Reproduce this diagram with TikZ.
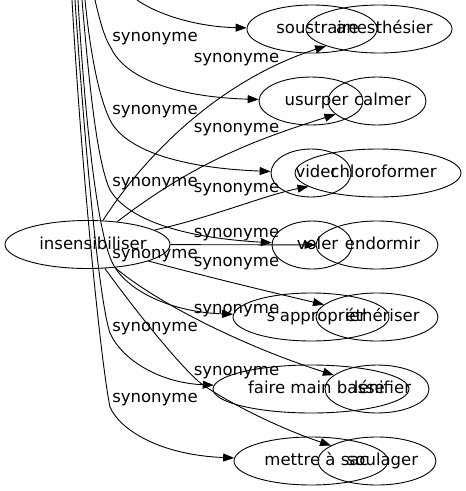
\documentclass[tikz,border=0pt]{standalone}
\usepackage{fontspec}
\newfontfamily\dv{DejaVu Sans}
\usetikzlibrary{shapes.geometric,arrows.meta}
\newcommand{\ntxt}[1]{\makebox[0pt]{\kern11pt #1}}
\begin{document}
\begin{tikzpicture}[x=1pt,y=-1pt,
  nd/.style={ellipse, draw, line width=0.9pt, inner sep=0pt, minimum height=48pt,
    text height=9pt, text depth=0pt, font=\dv\fontsize{16.5}{20}\selectfont},
  lbl/.style={inner sep=0pt, text height=9pt, text depth=0pt,
    font=\dv\fontsize{16.5}{20}\selectfont},
  edge/.style={line width=0.9pt, -{Triangle[length=11pt,width=8pt]}}]
\useasboundingbox (0,0) rectangle (466,491);
\fill[white] (0,0) rectangle (466,491);
\clip (0,0) rectangle (466,491);

% nodes
\node[nd, minimum width=165pt] (ins) at (87.5,244.5) {\ntxt{insensibiliser}};
\node[nd, minimum width=130pt] (sous) at (312,29) {\ntxt{soustraire}};
\node[nd, minimum width=146pt] (anes) at (379,29) {\ntxt{anesthésier}};
\node[nd, minimum width=104pt] (usur) at (311,101) {\ntxt{usurper}};
\node[nd, minimum width=98pt] (calm) at (377,101) {\ntxt{calmer}};
\node[nd, minimum width=80pt] (vide) at (311,173) {\ntxt{vider}};
\node[nd, minimum width=166pt] (chlo) at (378,173) {\ntxt{chloroformer}};
\node[nd, minimum width=80pt] (vole) at (312,245) {\ntxt{voler}};
\node[nd, minimum width=122pt] (endo) at (377,245) {\ntxt{endormir}};
\node[nd, minimum width=156pt] (sapp) at (311,317) {\ntxt{s'approprier}};
\node[nd, minimum width=122pt] (ethe) at (377,317) {\ntxt{éthériser}};
\node[nd, minimum width=196pt] (fair) at (311,389) {\ntxt{faire main basse}};
\node[nd, minimum width=104pt] (leni) at (377,389) {\ntxt{lénifier}};
\node[nd, minimum width=154pt] (mett) at (311,461) {\ntxt{mettre à sac}};
\node[nd, minimum width=118pt] (soul) at (377,461) {\ntxt{soulager}};

% free ends of edges coming from above the picture
\coordinate (t1) at (137,0);
\coordinate (t2) at (95,0);
\coordinate (t3) at (85,0);
\coordinate (t4) at (82,0);
\coordinate (t5) at (78,0);
\coordinate (t6) at (75,0);
\coordinate (t7) at (72,0);

\draw[edge] (t1) .. controls (160,16) and (200,27) .. (sous);
\draw[edge] (t2) .. controls (102,30) and (106,40) .. (111,48) .. controls (125,78) and (175,97) .. (usur);
\draw[edge] (t3) .. controls (90,50) and (98,95) .. (110,120) .. controls (125,150) and (180,168) .. (vide);
\draw[edge] (t4) .. controls (88,70) and (96,160) .. (110,190) .. controls (125,215) and (170,237) .. (vole);
\draw[edge] (t5) .. controls (85,120) and (97,230) .. (112,262) .. controls (125,290) and (170,312) .. (sapp);
\draw[edge] (t6) .. controls (85,150) and (99,300) .. (110,333) .. controls (122,360) and (160,383) .. (fair);
\draw[edge] (t7) .. controls (82,180) and (102,370) .. (110,407) .. controls (120,430) and (160,455) .. (mett);

% edges from insensibiliser
\draw[edge] (ins) .. controls (145,155) and (220,80) .. (anes);
\draw[edge] (ins) .. controls (195,162) and (255,140) .. (calm);
\draw[edge] (ins) .. controls (210,218) and (265,195) .. (chlo);
\draw[edge] (ins) -- (endo);
\draw[edge] (ins) .. controls (200,275) and (270,292) .. (ethe);
\draw[edge] (ins) .. controls (156,302) and (240,345) .. (leni);
\draw[edge] (ins) .. controls (135,310) and (175,360) .. (198,381) .. controls (215,395) and (270,425) .. (soul);

% labels
\node[lbl] (l1) at (155,37) {synonyme};
\node[lbl] (l2) at (155,110) {synonyme};
\node[lbl] (l3) at (155,182) {synonyme};
\node[lbl] (l4) at (155,254) {synonyme};
\node[lbl] (l5) at (155,327) {synonyme};
\node[lbl] (l6) at (155,398) {synonyme};
\node[lbl] (r1) at (236.5,58) {synonyme};
\node[lbl] (r2) at (236.5,128) {synonyme};
\node[lbl] (r3) at (236.5,188) {synonyme};
\node[lbl] (r4) at (236.5,233) {synonyme};
\node[lbl] (r5) at (236.5,262) {synonyme};
\node[lbl] (r6) at (236.5,309) {synonyme};
\node[lbl] (r7) at (236.5,371) {synonyme};
\end{tikzpicture}
\end{document}
